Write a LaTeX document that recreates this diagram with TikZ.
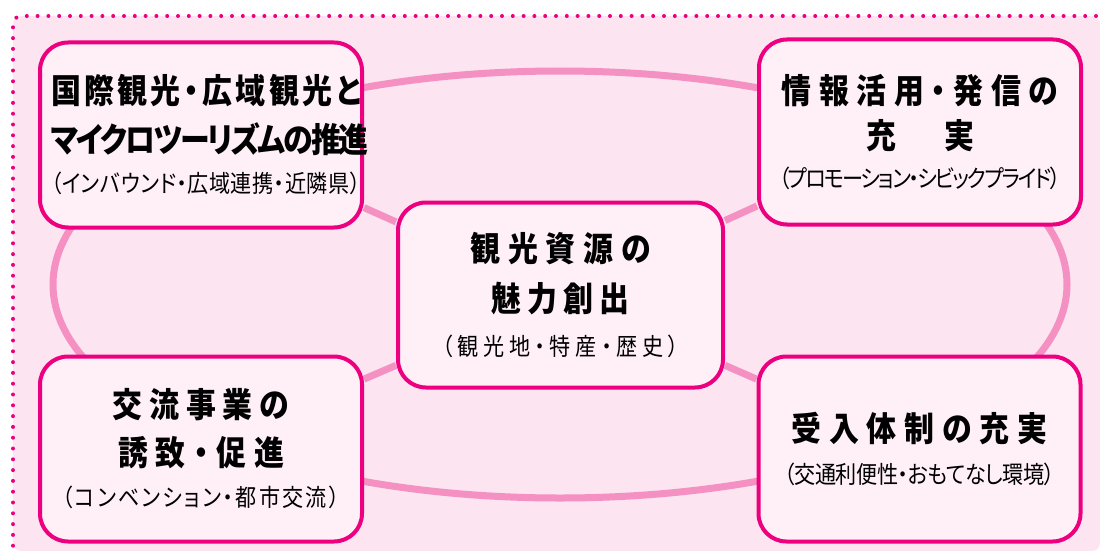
\documentclass[tikz,border=0pt]{standalone}
\usepackage{fontspec}
\newfontfamily\jpfont{Noto Sans CJK JP}[RawFeature=+palt, FakeStretch=0.88]
\usepackage{tikz}
\usetikzlibrary{backgrounds}
\definecolor{Frame}{RGB}{236, 0, 128}
\definecolor{BoxFill}{RGB}{255, 240, 248}
\definecolor{Back}{RGB}{252, 228, 240}
\definecolor{Ring}{RGB}{244, 145, 194}

\tikzset{
  themebox/.style={draw=Frame, line width=4pt, fill=BoxFill, rounded corners=28pt,
    minimum width=322pt, minimum height=185pt, text width=300pt, inner sep=0pt, align=center,
    font=\jpfont\bfseries\fontsize{34}{47}\selectfont},
  ring/.style={draw=Ring, line width=7pt},
}
\newcommand{\ls}[1]{\addfontfeature{LetterSpace=#1}}
\newcommand{\subline}[2]{{\mdseries\fontsize{24}{26}\selectfont\ls{#1}#2}}

\begin{document}
\begin{tikzpicture}[x=1pt, y=-1pt]
    %%Background
    \useasboundingbox (0,0) rectangle (1100,551);

    %% Boxes
    \node[themebox] (tl) at (201,135)
      {\ls{10}国際観光・広域観光と\\[2pt]\ls{-6}マイクロツーリズムの推進\\[-7pt]\subline{2}{（インバウンド・広域連携・近隣県）}};
    \node[themebox] (tr) at (920,132)
      {\ls{22}情報活用・発信の\\[-2pt]充\hspace{48pt}実\\[-8pt]\subline{-8}{（プロモーション・シビックプライド）}};
    \node[themebox, minimum width=325pt] (c) at (560.5,295)
      {\ls{23}観光資源の\\[3pt]\ls{17}魅力創出\\[-3pt]\subline{19}{（観光地・特産・歴史）}};
    \node[themebox] (bl) at (201,449)
      {\ls{20}交流事業の\\[1pt]\ls{23}誘致・促進\\[-6pt]\subline{9}{（コンベンション・都市交流）}};
    \node[themebox] (br) at (919.5,449)
      {\ls{23}受入体制の充実\\[-5pt]\subline{-2}{（交通利便性・おもてなし環境）}};

    \begin{scope}[on background layer]
      %% dotted frame
      \fill[Back, rounded corners=8pt] (13,16) rectangle (1100,551);
      \draw[Frame, line width=4pt, line cap=round, dash pattern=on 0pt off 10.8pt, rounded corners=8pt]
      (1096,16) to (13,16) to (13,551);

      %% ring and links
      \draw[ring] (560,284.5) ellipse [x radius=507, y radius=213.5];
      \draw[ring] (tl) to (c);
      \draw[ring] (tr) to (c);
      \draw[ring] (bl) to (c);
      \draw[ring] (br) to (c);
    \end{scope}
\end{tikzpicture}
\end{document}
